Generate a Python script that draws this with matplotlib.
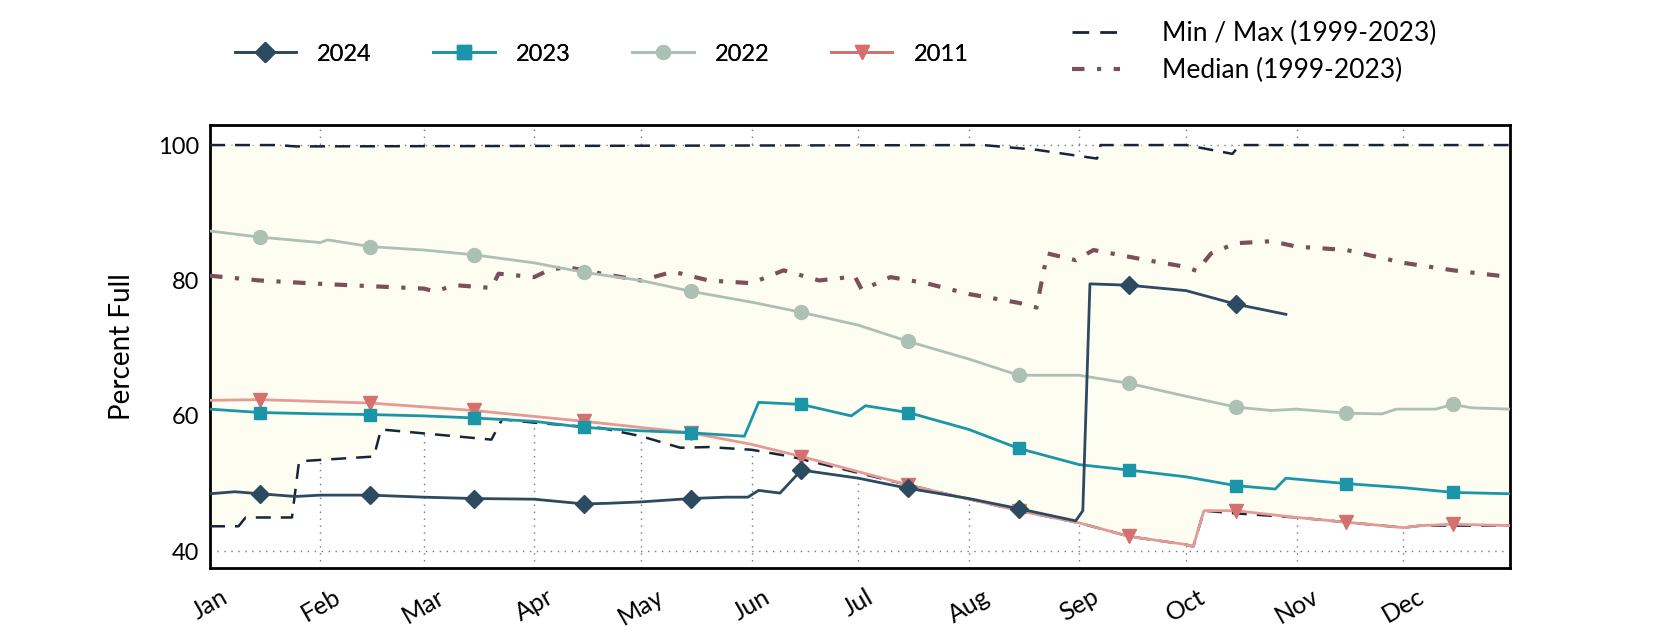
import matplotlib
matplotlib.use("Agg")
import matplotlib.pyplot as plt
import matplotlib.dates as mdates
from matplotlib.lines import Line2D
import pandas as pd

plt.rcParams['font.family'] = ['Lato', 'DejaVu Sans']

YEAR = "2024"

# knot points (month-day, percent full); mid-month points carry the markers
d2024 = ["01-01", "01-08", "01-15", "01-25", "02-01", "02-15", "03-01", "03-15", "04-01",
         "04-15", "04-22", "05-01", "05-15", "05-25", "05-31", "06-03", "06-09", "06-15",
         "07-01", "07-15", "08-01", "08-15", "08-31", "09-02", "09-04", "09-15", "10-01",
         "10-15", "10-29"]
v2024 = [48.5, 48.8, 48.5, 48.1, 48.3, 48.3, 48.0, 47.8, 47.7,
         47.0, 47.1, 47.3, 47.8, 48.0, 48.0, 49.0, 48.6, 52.0,
         50.8, 49.3, 47.8, 46.3, 44.5, 46.0, 79.5, 79.3, 78.5,
         76.5, 75.0]

d2023 = ["01-01", "01-15", "02-01", "02-15", "03-01", "03-15", "04-01", "04-15", "05-01",
         "05-15", "05-30", "06-03", "06-15", "06-29", "07-03", "07-15", "08-01", "08-15",
         "09-01", "09-15", "10-01", "10-15", "10-26", "10-29", "11-15", "12-01", "12-15",
         "12-31"]
v2023 = [61.0, 60.5, 60.3, 60.2, 60.0, 59.7, 59.2, 58.3, 57.8,
         57.5, 57.0, 62.0, 61.7, 60.0, 61.5, 60.5, 58.0, 55.2,
         52.8, 52.0, 51.0, 49.7, 49.2, 50.8, 50.0, 49.4, 48.7,
         48.5]

d2022 = ["01-01", "01-15", "02-01", "02-03", "02-15", "03-01", "03-15", "04-01", "04-15",
         "05-01", "05-15", "06-01", "06-15", "07-01", "07-15", "08-01", "08-15", "09-01",
         "09-15", "10-01", "10-15", "10-25", "11-01", "11-15", "11-25", "11-29", "12-10",
         "12-15", "12-20", "12-31"]
v2022 = [87.3, 86.4, 85.6, 86.0, 85.0, 84.5, 83.8, 82.6, 81.2,
         80.0, 78.4, 76.8, 75.3, 73.4, 71.0, 68.4, 66.0, 66.0,
         64.8, 62.9, 61.3, 60.8, 61.0, 60.4, 60.3, 61.0, 61.0,
         61.7, 61.2, 61.0]

d2011 = ["01-01", "01-15", "02-15", "03-15", "04-15", "05-15", "06-01", "06-15", "07-15",
         "08-15", "09-01", "09-15", "10-01", "10-03", "10-06", "10-15", "11-01", "11-15",
         "12-01", "12-06", "12-15", "12-31"]
v2011 = [62.3, 62.4, 61.9, 60.8, 59.2, 57.5, 55.8, 54.0, 49.8,
         46.0, 44.2, 42.2, 41.0, 40.7, 46.0, 46.0, 45.0, 44.3,
         43.5, 43.8, 44.0, 43.8]

d_max = ["01-01", "01-20", "01-25", "08-05", "08-20", "09-06", "09-07", "10-01", "10-14",
         "10-16", "12-31"]
v_max = [100.0, 100.0, 99.8, 100.0, 99.3, 98.0, 100.0, 100.0, 98.7,
         100.0, 100.0]

d_min = ["01-01", "01-09", "01-11", "01-24", "01-26", "02-16", "02-18", "03-20", "03-23",
         "04-01", "04-20", "05-01", "05-12", "05-20", "06-01", "06-12", "07-15", "08-15",
         "09-01", "09-15", "10-01", "10-03", "10-06", "10-15", "11-01", "11-15", "12-01",
         "12-06", "12-31"]
v_min = [43.7, 43.7, 45.0, 45.0, 53.3, 54.0, 58.0, 56.5, 59.5,
         59.0, 58.2, 57.0, 55.3, 55.4, 55.0, 54.0, 49.8, 46.0,
         44.2, 42.2, 41.0, 40.7, 46.0, 45.6, 45.0, 44.3, 43.5,
         43.8, 43.8]

d_med = ["01-01", "01-15", "02-01", "03-01", "03-04", "03-10", "03-20", "03-22", "04-01",
         "04-05", "04-10", "04-20", "05-01", "05-10", "05-20", "06-01", "06-10", "06-20",
         "06-30", "07-02", "07-10", "07-20", "08-01", "08-15", "08-20", "08-23", "08-31",
         "09-05", "09-20", "10-01", "10-04", "10-08", "10-15", "10-25", "11-01", "11-15",
         "12-01", "12-15", "12-31"]
v_med = [80.7, 80.0, 79.5, 78.8, 78.4, 79.3, 78.9, 81.0, 80.5,
         81.5, 82.0, 81.0, 80.0, 81.3, 80.0, 79.6, 81.5, 80.0,
         80.6, 78.6, 80.5, 79.6, 78.0, 76.7, 76.0, 84.0, 83.0,
         84.5, 83.0, 82.0, 81.4, 84.0, 85.5, 85.8, 85.0, 84.5,
         82.6, 81.5, 80.5]

months = ["Jan", "Feb", "Mar", "Apr", "May", "Jun", "Jul", "Aug", "Sep", "Oct", "Nov", "Dec"]


def to_dates(md):
    return pd.to_datetime([f"{YEAR}-{s}" for s in md])


def mid_month(md):
    return [i for i, s in enumerate(md) if s.endswith("-15")]


C2024 = "#2c4a60"
C2023 = "#1a96a8"
C2022 = "#adc0b4"
C2011_LINE = "#e49a96"
C2011_MARK = "#d4716f"
CMAXMIN = "#16263a"
CMED = "#7b505a"
FILL = "#fdfdf1"
DASH = (0, (6, 4))
DASHDOT = (0, (3, 3, 1, 3))

fig = plt.figure(figsize=(16.8, 6.3), dpi=100)
ax = fig.add_axes([0.125, 0.098, 0.774, 0.704])

# envelope between min and max
env_x = to_dates(sorted(set(d_max) | set(d_min)))
mx = pd.Series(v_max, index=to_dates(d_max)).reindex(env_x).interpolate(method="time")
mn = pd.Series(v_min, index=to_dates(d_min)).reindex(env_x).interpolate(method="time")
ax.fill_between(env_x, mn.values, mx.values, color=FILL, zorder=1, linewidth=0)

ax.plot(to_dates(d_max), v_max, color=CMAXMIN, lw=1.8, linestyle=DASH, zorder=3)
ax.plot(to_dates(d_min), v_min, color=CMAXMIN, lw=1.8, linestyle=DASH, zorder=3)
ax.plot(to_dates(d_med), v_med, color=CMED, lw=3, linestyle=DASHDOT, zorder=3)

ax.plot(to_dates(d2011), v2011, color=C2011_LINE, lw=2, zorder=4,
        marker="v", markevery=mid_month(d2011), markersize=10,
        markerfacecolor=C2011_MARK, markeredgecolor=C2011_MARK)
ax.plot(to_dates(d2022), v2022, color=C2022, lw=2, zorder=4,
        marker="o", markevery=mid_month(d2022), markersize=10)
ax.plot(to_dates(d2023), v2023, color=C2023, lw=2, zorder=5,
        marker="s", markevery=mid_month(d2023), markersize=9)
ax.plot(to_dates(d2024), v2024, color=C2024, lw=2, zorder=6,
        marker="D", markevery=mid_month(d2024), markersize=9)

ax.set_xlim(pd.Timestamp(f"{YEAR}-01-01"), pd.Timestamp(f"{YEAR}-12-31"))
ax.set_ylim(37.5, 103)
ax.set_yticks([40, 60, 80, 100])
ax.tick_params(axis="y", labelsize=17, length=0, pad=8)
ax.set_xticks(pd.date_range(f"{YEAR}-01-01", periods=12, freq="MS"))
ax.set_xticklabels(months, rotation=30, ha="center", fontsize=18)
ax.tick_params(axis="x", length=0, pad=12)
ax.set_ylabel("Percent Full", fontsize=20, labelpad=16)
ax.grid(True, color="#777777", linestyle=(0, (1, 4)), linewidth=1)
ax.set_axisbelow(True)
for sp in ax.spines.values():
    sp.set_linewidth(2)
    sp.set_color("black")

h_years = [
    Line2D([], [], color=C2024, lw=2, marker="D", markersize=10),
    Line2D([], [], color=C2023, lw=2, marker="s", markersize=10),
    Line2D([], [], color=C2022, lw=2, marker="o", markersize=10),
    Line2D([], [], color=C2011_MARK, lw=2, marker="v", markersize=10),
]
leg1 = fig.legend(h_years, ["2024", "2023", "2022", "2011"], ncol=4, frameon=False,
                  loc="center left", bbox_to_anchor=(0.127, 0.914), fontsize=17,
                  handlelength=2.6, columnspacing=2.6, handletextpad=0.9)
h_ref = [
    Line2D([], [], color=CMAXMIN, lw=2, linestyle=DASH),
    Line2D([], [], color=CMED, lw=3, linestyle=DASHDOT),
]
fig.legend(h_ref, ["Min / Max (1999-2023)", "Median (1999-2023)"], frameon=False,
           loc="center left", bbox_to_anchor=(0.624, 0.917), fontsize=19,
           handlelength=1.8, handletextpad=1.6, labelspacing=0.45)
fig.add_artist(leg1)

fig.savefig("out.png", dpi=100)
